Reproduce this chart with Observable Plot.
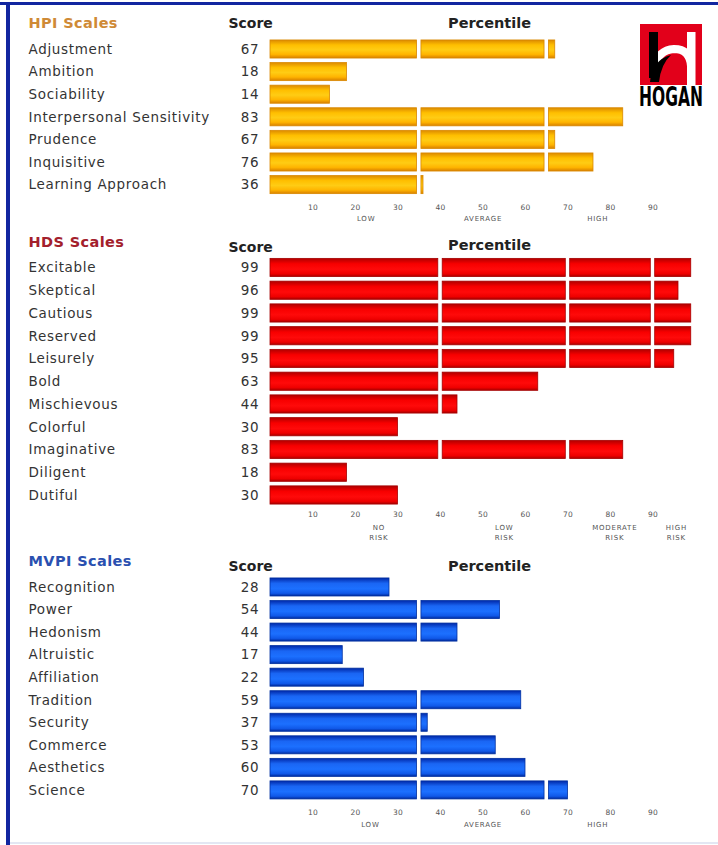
<!DOCTYPE html>
<html>
<head>
<meta charset="utf-8">
<script src="https://cdn.jsdelivr.net/npm/d3@7"></script>
<script src="https://cdn.jsdelivr.net/npm/@observablehq/plot@0.6"></script>
<style>
  html, body { margin: 0; padding: 0; background: #fff; }
  #page { position: relative; width: 718px; height: 845px; overflow: hidden; background: #fff;
          font-family: "DejaVu Sans", Verdana, sans-serif; }
  .frame-top { position: absolute; left: 0; top: 2px; width: 718px; height: 3px; background: #1226a0; }
  .frame-left { position: absolute; left: 6px; top: 2px; width: 4px; height: 843px; background: #1226a0; }
  .frame-bottom { position: absolute; left: 10px; top: 842px; width: 708px; height: 2px; background: #e3e7f3; }
  .sec { position: absolute; left: 0; line-height: 0; }
  .sec svg { background: transparent !important; overflow: visible; }
  text[aria-label="names"] { letter-spacing: 0.68px; }
  text[aria-label="scores"] { letter-spacing: 0.5px; }
  text[aria-label="titles"] { letter-spacing: 0.4px; }
  text[aria-label="band-labels"] { letter-spacing: 0.8px; }
  g[aria-label="x-axis tick label"] text { letter-spacing: 0.3px; }
  #logo { position: absolute; left: 640px; top: 24px; overflow: visible; }
</style>
</head>
<body>
<svg width="0" height="0" style="position:absolute">
  <defs>
    <linearGradient id="gradHPI" x1="0" y1="0" x2="0" y2="1">
      <stop offset="0" stop-color="#dc8a00"/>
      <stop offset="0.28" stop-color="#ffbf00"/>
      <stop offset="0.55" stop-color="#ffcc14"/>
      <stop offset="0.8" stop-color="#ffb400"/>
      <stop offset="1" stop-color="#d88000"/>
    </linearGradient>
    <linearGradient id="gradHDS" x1="0" y1="0" x2="0" y2="1">
      <stop offset="0" stop-color="#b00000"/>
      <stop offset="0.3" stop-color="#f80000"/>
      <stop offset="0.6" stop-color="#ff0a0a"/>
      <stop offset="0.85" stop-color="#ee0000"/>
      <stop offset="1" stop-color="#a80000"/>
    </linearGradient>
    <linearGradient id="gradMVPI" x1="0" y1="0" x2="0" y2="1">
      <stop offset="0" stop-color="#0028a8"/>
      <stop offset="0.3" stop-color="#1a66f4"/>
      <stop offset="0.6" stop-color="#1c70ff"/>
      <stop offset="0.85" stop-color="#1058e8"/>
      <stop offset="1" stop-color="#002a9c"/>
    </linearGradient>
  </defs>
</svg>
<div id="page">
  <div class="frame-top"></div>
  <div class="frame-left"></div>
  <div class="frame-bottom"></div>
  <svg id="logo" width="76" height="88" viewBox="0 0 76 88">
    <rect x="0" y="0" width="62" height="61" fill="#e2001a"/>
    <rect x="47" y="8" width="8.5" height="53" fill="#fff"/>
    <path d="M 14 44 Q 18 26 34 25 Q 50 25 51 42 L 51 61" fill="none" stroke="#fff" stroke-width="8"/>
    <path d="M 10 58 Q 12 36 31 31 Q 21 40 19 58 Z" fill="#000"/>
    <rect x="9" y="8" width="9" height="46" fill="#000"/>
    <text x="36.9" y="64" transform="scale(0.84,1.28)" text-anchor="middle"
          font-family="'Liberation Sans Narrow','DejaVu Sans Condensed','DejaVu Sans',sans-serif"
          font-weight="bold" font-size="20.5" fill="#000">HOGAN</text>
  </svg>
</div>
<script>
// ---------------- data ----------------
const hpiScales = ["Adjustment", "Ambition", "Sociability", "Interpersonal Sensitivity", "Prudence", "Inquisitive", "Learning Approach"];
const hpiScores = [67, 18, 14, 83, 67, 76, 36];
const hpiBreaks = [35, 65];
const hpiBandLabels = ["LOW", "AVERAGE", "HIGH"];
const hpiBandLabelAt = [22.5, 50, 77];

const hdsScales = ["Excitable", "Skeptical", "Cautious", "Reserved", "Leisurely", "Bold", "Mischievous", "Colorful", "Imaginative", "Diligent", "Dutiful"];
const hdsScores = [99, 96, 99, 99, 95, 63, 44, 30, 83, 18, 30];
const hdsBreaks = [40, 70, 90];
const hdsBandLabels = ["NO\nRISK", "LOW\nRISK", "MODERATE\nRISK", "HIGH\nRISK"];
const hdsBandLabelAt = [25.5, 55, 81, 95.5];

const mvpiScales = ["Recognition", "Power", "Hedonism", "Altruistic", "Affiliation", "Tradition", "Security", "Commerce", "Aesthetics", "Science"];
const mvpiScores = [28, 54, 44, 17, 22, 59, 37, 53, 60, 70];
const mvpiBreaks = [35, 65];
const mvpiBandLabels = ["LOW", "AVERAGE", "HIGH"];
const mvpiBandLabelAt = [23.5, 50, 77];

const percentileTicks = [10, 20, 30, 40, 50, 60, 70, 80, 90];

// ---------------- drawing ----------------
const FONT = "DejaVu Sans, Verdana, sans-serif";

function section(cfg) {
  const rows = cfg.names.map((name, i) => ({name, score: cfg.scores[i]}));
  const segs = [];
  for (const r of rows) {
    const edges = [0, ...cfg.breaks.filter(b => b < r.score), r.score];
    for (let i = 0; i < edges.length - 1; i++) {
      segs.push({name: r.name, x1: edges[i], x2: edges[i + 1], lo: i > 0, hi: i < edges.length - 2});
    }
  }
  const bands = cfg.bandLabels.map((t, i) => ({t, x: cfg.bandLabelAt[i]}));
  const n = rows.length;
  const height = cfg.mt + n * cfg.step + cfg.mb;
  const bar = (f, il, ir) => Plot.barX(segs.filter(f), {
    x1: "x1", x2: "x2", y: "name", fill: cfg.grad, stroke: cfg.stroke, strokeWidth: 0.8,
    insetLeft: il, insetRight: ir
  });
  const plot = Plot.plot({
    width: 718,
    height,
    marginLeft: 270,
    marginRight: 23,
    marginTop: cfg.mt,
    marginBottom: cfg.mb,
    style: {fontFamily: FONT, background: "transparent", overflow: "visible"},
    x: {domain: [0, 100]},
    y: {domain: cfg.names, axis: null, paddingInner: 0.2, paddingOuter: 0.1, round: false},
    marks: [
      bar(d => !d.lo && !d.hi, 0, 0),
      bar(d => !d.lo && d.hi, 0, 2.2),
      bar(d => d.lo && d.hi, 2.2, 2.2),
      bar(d => d.lo && !d.hi, 2.2, 0),
      Plot.text(rows, {y: "name", text: "name", frameAnchor: "left", textAnchor: "start", dx: -242,
        lineAnchor: "middle", fontSize: 13.5, fill: "#333", ariaLabel: () => "names"}),
      Plot.text(rows, {y: "name", text: d => String(d.score), frameAnchor: "left", textAnchor: "end", dx: -11.5,
        lineAnchor: "middle", fontSize: 13.5, fill: "#333", ariaLabel: () => "scores"}),
      Plot.axisX({ticks: percentileTicks, tickSize: 0, tickPadding: cfg.tickPad, fontSize: 7.5, color: "#555",
        label: null}),
      Plot.text(bands, {x: "x", text: "t", frameAnchor: "bottom", lineAnchor: "middle", dy: cfg.bandDy, fontSize: 7,
        lineHeight: 1.35, fill: "#555", ariaLabel: () => "band-labels"}),
      Plot.text([cfg.title], {frameAnchor: "top-left", lineAnchor: "middle", dx: -242, dy: cfg.titleDy, textAnchor: "start",
        fontSize: 14.5, fontWeight: "bold", fill: cfg.titleColor, ariaLabel: () => "titles"}),
      Plot.text(["Score"], {frameAnchor: "top-left", lineAnchor: "middle", dx: -42, dy: cfg.headDy, textAnchor: "start",
        fontSize: 14, fontWeight: "bold", fill: "#222"}),
      Plot.text(["Percentile"], {frameAnchor: "top", lineAnchor: "middle", dx: 6.5, dy: cfg.headDy - (cfg.pctShift || 0),
        fontSize: 14.5, fontWeight: "bold", fill: "#222"})
    ]
  });
  const div = document.createElement("div");
  div.className = "sec";
  div.style.top = cfg.top + "px";
  div.appendChild(plot);
  document.getElementById("page").appendChild(div);
}

section({
  names: hpiScales, scores: hpiScores, breaks: hpiBreaks,
  bandLabels: hpiBandLabels, bandLabelAt: hpiBandLabelAt,
  title: "HPI Scales", titleColor: "#cf8a36",
  grad: "url(#gradHPI)", stroke: "#d98800",
  top: 0, mt: 37.7, step: 22.6, mb: 30,
  titleDy: -14.7, headDy: -14.7, tickPad: 8.6, bandDy: 21.5
});

section({
  names: hdsScales, scores: hdsScores, breaks: hdsBreaks,
  bandLabels: hdsBandLabels, bandLabelAt: hdsBandLabelAt,
  title: "HDS Scales", titleColor: "#a3202c",
  grad: "url(#gradHDS)", stroke: "#a50000",
  top: 228, mt: 28.1, step: 22.75, mb: 36,
  titleDy: -14, headDy: -9.5, pctShift: 1.5, tickPad: 4.4, bandDy: 25.2
});

section({
  names: mvpiScales, scores: mvpiScores, breaks: mvpiBreaks,
  bandLabels: mvpiBandLabels, bandLabelAt: mvpiBandLabelAt,
  title: "MVPI Scales", titleColor: "#2a50b0",
  grad: "url(#gradMVPI)", stroke: "#0030a0",
  top: 548, mt: 27.7, step: 22.55, mb: 34,
  titleDy: -14.7, headDy: -10, tickPad: 8, bandDy: 22
});
</script>
</body>
</html>
